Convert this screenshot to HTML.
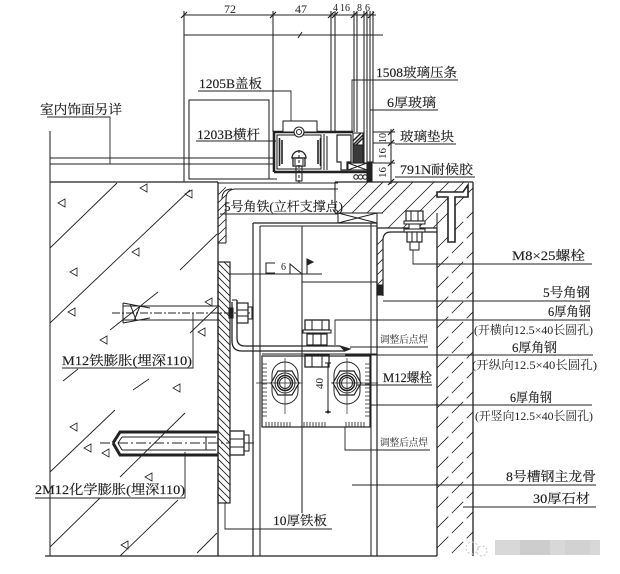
<!DOCTYPE html>
<html><head><meta charset="utf-8">
<style>
html,body{margin:0;padding:0;background:#fff;}
svg{display:block}
text{font-family:"Liberation Serif","Noto Serif CJK SC","Noto Sans CJK SC",serif;fill:#1e1e1e;}
</style></head><body>
<svg width="620" height="574" viewBox="0 0 620 574" xmlns="http://www.w3.org/2000/svg">
<defs>
<clipPath id="stoneClip"><path d="M335,182 H473 V556 H437 V228 H383 V213 H335 Z"/></clipPath>
<clipPath id="plateClip"><rect x="218" y="262" width="12" height="241"/></clipPath>
<clipPath id="angClip"><path d="M218,183 H226 V243 H218 Z"/></clipPath>
</defs>

<g stroke="#222" fill="none" stroke-width="1.05">

<!-- top dimension -->
<line x1="184" y1="15" x2="376" y2="15"/>
<g stroke-width="1.2">
<line x1="181" y1="18" x2="187" y2="12"/>
<line x1="270" y1="18" x2="276" y2="12"/>
<line x1="328" y1="18" x2="334" y2="12"/>
<line x1="332" y1="18" x2="338" y2="12"/>
<line x1="351" y1="18" x2="357" y2="12"/>
<line x1="361" y1="18" x2="367" y2="12"/>
<line x1="368" y1="18" x2="374" y2="12"/>
</g>
<line x1="184" y1="11" x2="184" y2="182"/>
<line x1="273" y1="11" x2="273" y2="132"/>
<line x1="184" y1="35" x2="383" y2="35"/>
<path d="M298,38 L300,35 L302,32" />

<!-- glass verticals -->
<line x1="331" y1="11" x2="331" y2="132"/>
<line x1="335" y1="11" x2="335" y2="132"/>
<line x1="354" y1="11" x2="354" y2="132"/>
<line x1="357" y1="11" x2="357" y2="132"/>
<line x1="364" y1="11" x2="364" y2="163"/>
<line x1="367" y1="11" x2="367" y2="163"/>
<line x1="370" y1="11" x2="370" y2="163"/>
<line x1="373" y1="11" x2="373" y2="163"/>

<!-- interior finish -->
<line x1="50" y1="131" x2="50" y2="182"/>
<line x1="50" y1="158" x2="273" y2="158"/>
<line x1="50" y1="164" x2="273" y2="164"/>
<rect x="189" y="100" width="80" height="79"/>
<line x1="189" y1="179" x2="277" y2="179"/>

<!-- transom 1203B -->
<path d="M274,172 V132 H353" stroke-width="2.6"/>
<path d="M274,172 H372" stroke-width="2.6"/>
<rect x="277" y="135" width="44" height="34"/>
<rect x="283" y="121" width="34" height="11" fill="#fff"/>
<path d="M279.5,138 V166 M282,140 V164 M318,140 V164 M320.5,138 V166" stroke-width="1.6"/>
<circle cx="299" cy="132" r="5" fill="#fff"/>
<circle cx="299" cy="132" r="2.5"/>
<path d="M292,158 A7,7 0 0 1 306,158 Z" fill="#fff" stroke-width="1.3"/>
<rect x="293" y="158" width="12" height="8" stroke-width="1.3"/>
<line x1="295" y1="159" x2="295" y2="165"/><line x1="303" y1="159" x2="303" y2="165"/>
<rect x="296" y="166" width="6" height="15"/>
<line x1="299" y1="150" x2="299" y2="183" stroke-dasharray="3 2"/>

<!-- pressure strip/glass block -->
<path d="M324,134 V170 M327,136 V170"/>
<path d="M337,135 H351 V162 H347 V170 H341 V162 H337 Z" stroke-width="1.2"/>
<rect x="353" y="133" width="10" height="12" fill="#fff"/>
<path d="M353,141 L361,133 M353,145 L363,135 M356,145 L363,138" stroke-width="1.5"/>
<rect x="353" y="145" width="10" height="18" fill="#3a3a3a"/>
<rect x="348" y="163" width="19" height="7"/>
<path d="M348,163 L367,170 M348,170 L367,163"/>
<circle cx="356" cy="177" r="2.2"/><circle cx="360.5" cy="177" r="2.2"/><circle cx="365" cy="177" r="2.2"/>
<rect x="367" y="162" width="5" height="20" fill="#222"/>

<!-- right dims 10/16/16 -->
<line x1="391" y1="129" x2="391" y2="184"/>
<line x1="373" y1="132" x2="395" y2="132"/>
<line x1="373" y1="143" x2="395" y2="143"/>
<line x1="373" y1="163" x2="395" y2="163"/>
<g stroke-width="1.2">
<line x1="388" y1="135" x2="394" y2="129"/>
<line x1="388" y1="146" x2="394" y2="140"/>
<line x1="388" y1="166" x2="394" y2="160"/>
<line x1="388" y1="185" x2="394" y2="179"/>
</g>

<!-- concrete wall -->
<line x1="50" y1="182" x2="218" y2="182" stroke-width="1.3"/>
<line x1="50" y1="182" x2="50" y2="556"/>
<line x1="218" y1="182" x2="218" y2="556" stroke-width="1.3"/>
<line x1="45" y1="556" x2="437" y2="556" stroke-width="1.3"/>
<g stroke-width="0.9">
<line x1="50" y1="248" x2="117" y2="183"/>
<line x1="50" y1="323" x2="190" y2="190"/>
<line x1="180" y1="270" x2="217" y2="234"/>
<line x1="110" y1="330" x2="158" y2="292"/>
<line x1="190" y1="333" x2="217" y2="307"/>
<line x1="63" y1="381" x2="78" y2="369"/>
<line x1="133" y1="390" x2="149" y2="379"/>
<line x1="50" y1="472" x2="115" y2="410"/>
<line x1="120" y1="477" x2="185" y2="413"/>
<line x1="50" y1="547" x2="100" y2="498"/>
<line x1="120" y1="556" x2="178" y2="500"/>
<line x1="197" y1="553" x2="217" y2="533"/>
</g>
<g stroke-width="0.8">
<path d="M140,188 l7,-4 l0,8 z"/>
<path d="M58,203 l7,-4 l0,8 z"/>
<path d="M185,194 l7,-4 l0,8 z"/>
<path d="M132,252 l7,-4 l0,8 z"/>
<path d="M70,272 l7,-4 l0,8 z"/>
<path d="M68,312 l7,-4 l0,8 z"/>
<path d="M205,302 l7,-4 l0,8 z"/>
<path d="M198,332 l7,-4 l0,8 z"/>
<path d="M100,340 l7,-4 l0,8 z"/>
<path d="M173,388 l7,-4 l0,8 z"/>
<path d="M70,427 l7,-4 l0,8 z"/>
<path d="M84,448 l7,-4 l0,8 z"/>
<path d="M102,453 l7,-4 l0,8 z"/>
<path d="M145,477 l7,-4 l0,8 z"/>
<path d="M121,545 l7,-4 l0,8 z"/>
</g>

<!-- 5号角铁 -->
<path d="M218,183 H338"/>
<path d="M226,243 V199 Q226,189 236,189 H338"/>
<line x1="218" y1="243" x2="226" y2="243"/>
<g clip-path="url(#angClip)" stroke-width="0.8">
<line x1="218" y1="195" x2="226" y2="187"/><line x1="218" y1="203" x2="226" y2="195"/>
<line x1="218" y1="211" x2="226" y2="203"/><line x1="218" y1="219" x2="226" y2="211"/>
<line x1="218" y1="227" x2="226" y2="219"/><line x1="218" y1="235" x2="226" y2="227"/>
<line x1="218" y1="243" x2="226" y2="235"/>
</g>
<path d="M232,189 Q222,189 222,199"/>

<!-- stone -->
<line x1="335" y1="182" x2="473" y2="182" stroke-width="1.3"/>
<line x1="473" y1="182" x2="473" y2="556" stroke-width="1.3"/>
<line x1="437" y1="228" x2="437" y2="556" stroke-width="1.3"/>
<line x1="335" y1="182" x2="335" y2="213"/>
<line x1="335" y1="213" x2="383" y2="213"/>
<g clip-path="url(#stoneClip)" stroke-width="0.8">
<line x1="330" y1="220" x2="370" y2="180"/>
<line x1="345" y1="220" x2="385" y2="180"/>
<line x1="360" y1="220" x2="400" y2="180"/>
<line x1="375" y1="220" x2="415" y2="180"/>
<line x1="388" y1="228" x2="436" y2="180"/>
<line x1="403" y1="228" x2="451" y2="180"/>
<line x1="418" y1="228" x2="466" y2="180"/>
<line x1="433" y1="228" x2="481" y2="180"/>
<g stroke-dasharray="16 5">
<line x1="437" y1="248" x2="475" y2="210"/>
<line x1="437" y1="268" x2="475" y2="230"/>
<line x1="437" y1="288" x2="475" y2="250"/>
<line x1="437" y1="308" x2="475" y2="270"/>
<line x1="437" y1="328" x2="475" y2="290"/>
<line x1="437" y1="348" x2="475" y2="310"/>
<line x1="437" y1="368" x2="475" y2="330"/>
<line x1="437" y1="388" x2="475" y2="350"/>
<line x1="437" y1="408" x2="475" y2="370"/>
<line x1="437" y1="428" x2="475" y2="390"/>
<line x1="437" y1="448" x2="475" y2="410"/>
<line x1="437" y1="468" x2="475" y2="430"/>
<line x1="437" y1="488" x2="475" y2="450"/>
<line x1="437" y1="508" x2="475" y2="470"/>
<line x1="437" y1="528" x2="475" y2="490"/>
<line x1="437" y1="548" x2="475" y2="510"/>
<line x1="437" y1="568" x2="475" y2="530"/>
</g>
</g>
<!-- stone bracket -->
<path d="M437,192 H463 L468,185 V190 L468,197 H455 V242 H448 V197 H437 Z" fill="#fff" stroke-width="1.6"/>

<!-- support X box -->
<rect x="338" y="213" width="39" height="10" fill="#fff"/>
<path d="M338,213 L377,223 M338,223 L377,213"/>

<!-- channel lines -->
<line x1="253" y1="223" x2="377" y2="223" stroke-width="1.2"/>
<line x1="260" y1="226" x2="377" y2="226"/>
<line x1="253" y1="223" x2="253" y2="556" stroke-width="1.2"/>
<line x1="260" y1="226" x2="260" y2="556"/>
<line x1="371" y1="223" x2="371" y2="556"/>
<line x1="377" y1="223" x2="377" y2="556" stroke-width="1.2"/>
<line x1="302" y1="226" x2="302" y2="513"/>
<path d="M302,282 H377"/>
<line x1="437" y1="213" x2="437" y2="228"/>

<!-- 5号角钢 on channel -->
<path d="M377,228 V296 M383,296 V240 Q383,232 391,232 H437 M377,228 H437" stroke-width="1.2"/>
<g stroke-width="0.8"><line x1="377" y1="245" x2="383" y2="239"/><line x1="377" y1="255" x2="383" y2="249"/><line x1="377" y1="265" x2="383" y2="259"/><line x1="377" y1="275" x2="383" y2="269"/><line x1="377" y1="285" x2="383" y2="279"/></g>
<rect x="378" y="285" width="4" height="10" fill="#222"/>

<!-- M8 bolt -->
<rect x="406" y="211" width="17" height="10" fill="#fff" stroke-width="1.2"/>
<line x1="411" y1="211" x2="411" y2="221"/><line x1="418" y1="211" x2="418" y2="221"/>
<rect x="404" y="221" width="21" height="3" fill="#fff"/>
<rect x="409" y="224" width="11" height="8" fill="#fff"/>
<rect x="404" y="229" width="21" height="3" fill="#fff"/>
<rect x="407" y="232" width="15" height="10" fill="#fff" stroke-width="1.2"/>
<line x1="412" y1="232" x2="412" y2="242"/><line x1="417" y1="232" x2="417" y2="242"/>
<rect x="410" y="242" width="9" height="8" fill="#fff"/>

<!-- steel plate 10厚 -->
<rect x="218" y="262" width="12" height="241" stroke-width="1.2"/>
<g clip-path="url(#plateClip)" stroke-width="0.9">
<path d="M218,256 l14,14 M218,263 l14,14 M218,270 l14,14 M218,277 l14,14 M218,284 l14,14 M218,291 l14,14 M218,298 l14,14 M218,305 l14,14 M218,312 l14,14 M218,319 l14,14 M218,326 l14,14 M218,333 l14,14 M218,340 l14,14 M218,347 l14,14 M218,354 l14,14 M218,361 l14,14 M218,368 l14,14 M218,375 l14,14 M218,382 l14,14 M218,389 l14,14 M218,396 l14,14 M218,403 l14,14 M218,410 l14,14 M218,417 l14,14 M218,424 l14,14 M218,431 l14,14 M218,438 l14,14 M218,445 l14,14 M218,452 l14,14 M218,459 l14,14 M218,466 l14,14 M218,473 l14,14 M218,480 l14,14 M218,487 l14,14 M218,494 l14,14"/>
</g>
<line x1="230" y1="274" x2="322" y2="274"/>

<!-- weld symbol -->
<path d="M275,263 H266 V273 H275"/>
<path d="M290,274 V264 L302,274"/>
<line x1="307" y1="274" x2="307" y2="259"/>
<path d="M307,259 L313,262 L307,265 Z" fill="#222"/>

<!-- M12 iron expansion -->
<line x1="112" y1="313" x2="252" y2="313" stroke-dasharray="8 2 2 2"/>
<path d="M123,306 H218 M123,320 H218"/>
<path d="M123,303 L150,308 M123,323 L150,318 M123,303 V323 M130,304 L136,320 M140,306 L134,321"/>
<rect x="237" y="303" width="11" height="20" fill="#fff" stroke-width="1.2"/>
<line x1="237" y1="310" x2="248" y2="310"/><line x1="237" y1="316" x2="248" y2="316"/>
<rect x="248" y="307" width="4" height="12"/>
<rect x="229" y="308" width="4" height="10" fill="#222"/>

<!-- 6厚角钢 L -->
<path d="M232,302 V341 Q232,351 242,351 H345" stroke-width="1.3"/>
<path d="M237,300 V338 Q237,346 245,346 H340" stroke-width="1.3"/>
<line x1="232" y1="300" x2="237" y2="300"/>
<path d="M340,346 L350,349 L345,351 Z" fill="#222"/>
<line x1="262" y1="354" x2="377" y2="354"/>

<!-- M12 bolt stack -->
<rect x="305" y="320" width="24" height="10" fill="#fff" stroke-width="1.3"/>
<line x1="312" y1="320" x2="312" y2="330"/><line x1="322" y1="320" x2="322" y2="330"/>
<rect x="303" y="330" width="28" height="3" fill="#fff"/>
<rect x="307" y="334" width="20" height="11" fill="#fff" stroke-width="1.2"/>
<line x1="313" y1="334" x2="313" y2="345"/><line x1="321" y1="334" x2="321" y2="345"/>
<rect x="305" y="355" width="24" height="12" fill="#fff" stroke-width="1.3"/>
<line x1="312" y1="355" x2="312" y2="367"/><line x1="322" y1="355" x2="322" y2="367"/>

<!-- adjusting plate -->
<rect x="262" y="356" width="108" height="71" stroke-width="1.2"/>
<g stroke-width="0.8">
<path d="M262,364 h5 M262,368 h5 M262,372 h5 M262,376 h5 M262,380 h5 M262,384 h5 M262,388 h5 M262,392 h5 M262,396 h5 M262,400 h5 M262,404 h5 M262,408 h5 M262,412 h5 M262,416 h5"/>
<path d="M365,364 h5 M365,368 h5 M365,372 h5 M365,376 h5 M365,380 h5 M365,384 h5 M365,388 h5 M365,392 h5 M365,396 h5 M365,400 h5 M365,404 h5 M365,408 h5 M365,412 h5 M365,416 h5"/>
<path d="M266,422 v5 M269,422 v5 M272,422 v5 M275,422 v5 M278,422 v5 M281,422 v5 M284,422 v5 M287,422 v5 M290,422 v5"/>
<path d="M304,422 v5 M307,422 v5 M310,422 v5 M313,422 v5 M316,422 v5 M319,422 v5 M322,422 v5 M325,422 v5"/>
<path d="M346,422 v5 M349,422 v5 M352,422 v5 M355,422 v5 M358,422 v5 M361,422 v5 M364,422 v5"/>
</g>
<!-- slotted holes -->
<g stroke-width="1">
<path d="M272,375 A13,13 0 0 1 298,375 V391 A13,13 0 0 1 272,391 Z" fill="#fff"/>
<polygon points="271,383 278,371 292,371 299,383 292,395 278,395" fill="#fff" stroke-width="1.2"/>
<circle cx="285" cy="383" r="10"/>
<circle cx="285" cy="383" r="7.5" stroke-width="1.5"/>
<circle cx="285" cy="383" r="5.5"/>
<path d="M334,375 A13,13 0 0 1 360,375 V391 A13,13 0 0 1 334,391 Z" fill="#fff"/>
<polygon points="333,383 340,371 354,371 361,383 354,395 340,395" fill="#fff" stroke-width="1.2"/>
<circle cx="347" cy="383" r="10"/>
<circle cx="347" cy="383" r="7.5" stroke-width="1.5"/>
<circle cx="347" cy="383" r="5.5"/>
</g>
<g stroke-width="0.7">
<line x1="256" y1="383" x2="302" y2="383"/>
<line x1="331" y1="383" x2="378" y2="383"/>
<line x1="285" y1="358" x2="285" y2="414"/>
<line x1="347" y1="358" x2="347" y2="414"/>
</g>
<line x1="328" y1="363" x2="328" y2="412"/>
<line x1="325" y1="363" x2="331" y2="363"/><line x1="325" y1="412" x2="331" y2="412"/>
<circle cx="328" cy="412" r="1" fill="#222"/>

<!-- chemical anchor -->
<line x1="100" y1="443" x2="255" y2="443" stroke-dasharray="10 3 2 3"/>
<path d="M113,443 L120,432 H218 M113,443 L120,455 H218" stroke-width="3"/>
<path d="M122,437 H216 M122,450 H216 M122,437 L118,443 L122,450" stroke-width="1"/>
<line x1="206" y1="437" x2="206" y2="450"/>
<rect x="230" y="431" width="14" height="24" fill="#fff" stroke-width="1.3"/>
<line x1="230" y1="439" x2="244" y2="439"/><line x1="230" y1="447" x2="244" y2="447"/>
<rect x="244" y="435" width="5" height="16"/>

<!-- leaders -->
<g stroke-width="0.9">
<path d="M198,91 H291 V121"/>
<path d="M196,141 H276"/>
<path d="M47,117 H110 V164"/>
<path d="M458,80 H352 V132"/>
<path d="M370,110 H438"/>
<path d="M395,144 H456"/>
<path d="M395,177 H475"/>
<path d="M220,214 H338"/>
<path d="M413,250 V264 H592"/>
<path d="M383,301 H590"/>
<path d="M335,345 V320 H590"/>
<path d="M345,355 H593"/>
<path d="M370,405 H592"/>
<path d="M357,385 H432"/>
<path d="M350,347 H428"/>
<path d="M345,427 V450 H430"/>
<path d="M352,485 H596"/>
<path d="M463,507 H596"/>
<path d="M225,503 V529 H332"/>
<path d="M62,368 H193 V313"/>
<path d="M35,498 H185 V452"/>
</g>
</g>

<!-- watermark -->
<rect x="495" y="540" width="105" height="15" fill="#d8d8d8"/>
<rect x="520" y="540" width="30" height="15" fill="#cdcdcd"/>
<rect x="565" y="540" width="25" height="15" fill="#d2d2d2"/>
<g fill="none" stroke="#c8c8c8" stroke-dasharray="2 2">
<circle cx="472" cy="548" r="6"/><circle cx="482" cy="551" r="5"/>
</g>

<!-- text -->
<g font-size="12">
<text x="224" y="13">72</text>
<text x="295" y="13">47</text>
</g>
<g font-size="10">
<text x="333" y="11">4</text>
<text x="340" y="11">16</text>
<text x="357" y="11">8</text>
<text x="365" y="11">6</text>
</g>
<g font-size="10" transform="rotate(-90)">
<text x="-143" y="386" textLength="10" lengthAdjust="spacingAndGlyphs">10</text>
<text x="-159" y="386" textLength="11" lengthAdjust="spacingAndGlyphs">16</text>
<text x="-178" y="386" textLength="11" lengthAdjust="spacingAndGlyphs">16</text>
<text x="-389" y="323" textLength="11" lengthAdjust="spacingAndGlyphs">40</text>
</g>
<g font-size="13" stroke="#1e1e1e" stroke-width="0.15">
<text x="199" y="88" textLength="63" lengthAdjust="spacingAndGlyphs">1205B盖板</text>
<text x="40" y="114" textLength="82" lengthAdjust="spacingAndGlyphs">室内饰面另详</text>
<text x="197" y="139" textLength="63" lengthAdjust="spacingAndGlyphs">1203B横杆</text>
<text x="376" y="77" textLength="81" lengthAdjust="spacingAndGlyphs">1508玻璃压条</text>
<text x="387" y="107" textLength="49" lengthAdjust="spacingAndGlyphs">6厚玻璃</text>
<text x="400" y="141" textLength="54" lengthAdjust="spacingAndGlyphs">玻璃垫块</text>
<text x="400" y="174" textLength="73" lengthAdjust="spacingAndGlyphs">791N耐候胶</text>
<text x="224" y="211" textLength="119" lengthAdjust="spacingAndGlyphs">5号角铁(立杆支撑点)</text>
<text x="512" y="260" textLength="73" lengthAdjust="spacingAndGlyphs">M8×25螺栓</text>
<text x="543" y="297" textLength="47" lengthAdjust="spacingAndGlyphs">5号角钢</text>
<text x="548" y="316" textLength="43" lengthAdjust="spacingAndGlyphs">6厚角钢</text>
<text x="512" y="352" textLength="45" lengthAdjust="spacingAndGlyphs">6厚角钢</text>
<text x="510" y="402" textLength="42" lengthAdjust="spacingAndGlyphs">6厚角钢</text>
<text x="506" y="481" textLength="90" lengthAdjust="spacingAndGlyphs">8号槽钢主龙骨</text>
<text x="533" y="503" textLength="57" lengthAdjust="spacingAndGlyphs">30厚石材</text>
<text x="383" y="382" textLength="49" lengthAdjust="spacingAndGlyphs">M12螺栓</text>
<text x="62" y="365" textLength="130" lengthAdjust="spacingAndGlyphs">M12铁膨胀(埋深110)</text>
<text x="35" y="494" textLength="150" lengthAdjust="spacingAndGlyphs">2M12化学膨胀(埋深110)</text>
<text x="273" y="525" textLength="54" lengthAdjust="spacingAndGlyphs">10厚铁板</text>
</g>
<g font-size="12">
<text x="474" y="334" textLength="119" lengthAdjust="spacingAndGlyphs">(开横向12.5×40长圆孔)</text>
<text x="472" y="369" textLength="125" lengthAdjust="spacingAndGlyphs">(开纵向12.5×40长圆孔)</text>
<text x="475" y="420" textLength="118" lengthAdjust="spacingAndGlyphs">(开竖向12.5×40长圆孔)</text>
</g>
<g font-size="10">
<text x="380" y="343" textLength="48" lengthAdjust="spacingAndGlyphs">调整后点焊</text>
<text x="380" y="446" textLength="48" lengthAdjust="spacingAndGlyphs">调整后点焊</text>
<text x="281" y="270">6</text>
</g>
</svg>
</body></html>
